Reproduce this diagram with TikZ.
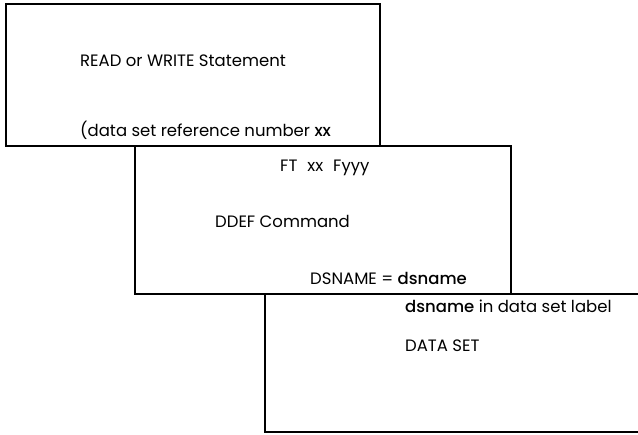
\documentclass[tikz,border=0pt]{standalone}
\usepackage{fontspec}
\setmainfont{Poppins}[BoldFont={Poppins Medium}]
\tikzset{
  frame/.style={line width=1.6pt, line cap=rect},
  txt/.style={anchor=base west, inner sep=0pt, font=\fontsize{16.5}{19}\selectfont}
}
\begin{document}
\begin{tikzpicture}[x=1pt, y=-1pt]
            \useasboundingbox (0,0) rectangle (638,435);

            % the three overlapping sheets
            \coordinate (rw1) at (6,4);
            \coordinate (rw2) at (380,146);
            \coordinate (dd1) at (135,146);
            \coordinate (dd2) at (511,294);
            \coordinate (ds1) at (265,294);
            \coordinate (ds2) at (638,432);

            \draw[frame] (rw1) rectangle (rw2);
            \draw[frame] (rw2) -- (rw2 -| dd2) -- (dd2) -- (dd2 -| dd1) -- (dd1);
            \draw[frame] (dd2) -- (dd2 -| ds2);
            \draw[frame] (ds1) -- (ds1 |- ds2) -- (ds2);

            \node[txt] (rwstmt) at (80,67) {READ or WRITE Statement};
            \node[txt] (refno) at (80,137) {(data set reference number \textbf{xx}};
            \node[txt] (ftname) at (280,172) {FT\hspace{10pt}xx\hspace{10pt}Fyyy};
            \node[txt] (ddef) at (215,228) {DDEF Command};
            \node[txt] (dsn) at (310,285) {DSNAME = \textbf{dsname}};
            \node[txt] (label) at (405,313) {\textbf{dsname} in data set label};
            \node[txt] (dset) at (405,352) {DATA SET};
        \end{tikzpicture}
\end{document}
